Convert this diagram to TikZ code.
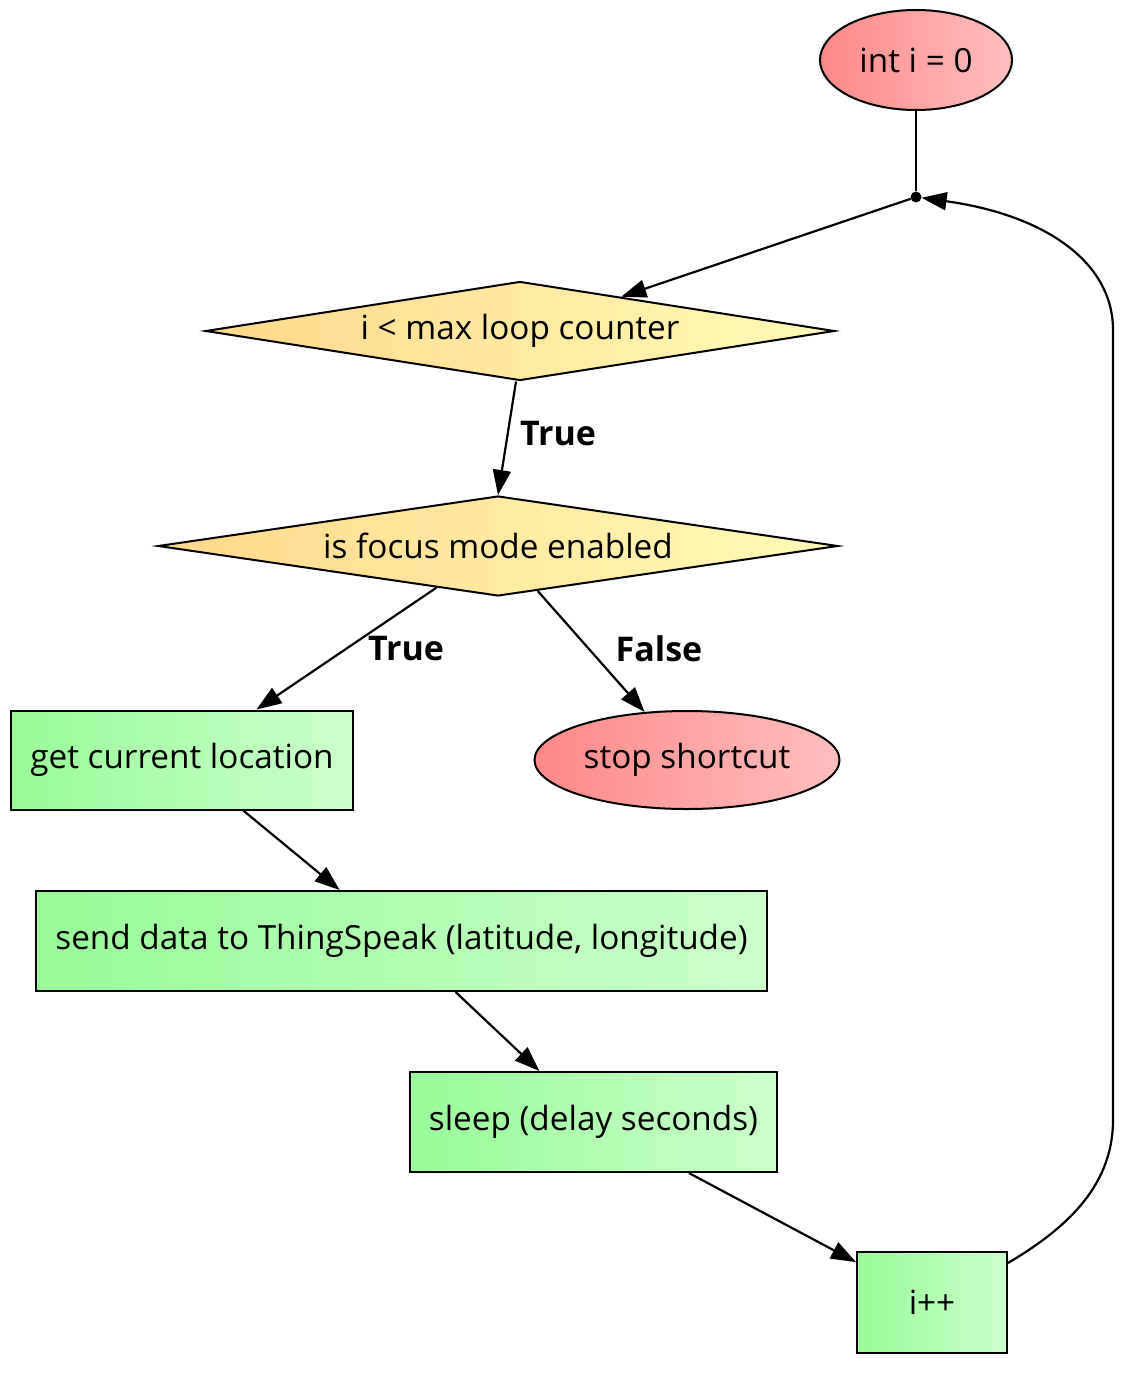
\documentclass[tikz,border=0pt]{standalone}
\usepackage{fontspec}
\setmainfont{Open Sans}
\usetikzlibrary{shapes.geometric,arrows.meta,calc}
\definecolor{redL}{HTML}{FF8888}
\definecolor{redR}{HTML}{FFBFBF}
\definecolor{grnL}{HTML}{98FB98}
\definecolor{grnR}{HTML}{CCFFCC}
\definecolor{yelL}{HTML}{FFD88A}
\definecolor{yelR}{HTML}{FFFCB8}
\tikzset{
  base/.style={draw=black, line width=2pt, inner sep=0pt, font=\fontsize{33.3}{38}\selectfont},
  term/.style={base, ellipse, left color=redL, right color=redR},
  proc/.style={base, rectangle, left color=grnL, right color=grnR},
  cond/.style={base, diamond, aspect=6.3, left color=yelL, right color=yelR},
  lbl/.style={font=\fontsize{34}{38}\selectfont\bfseries},
  conn/.style={line width=2.2pt, -{Triangle[length=25pt,width=18pt]}},
  plain/.style={line width=2.2pt}
}
\begin{document}
\begin{tikzpicture}[x=1pt,y=-1pt]
\useasboundingbox (0,0) rectangle (1139,1378);
\node[term, minimum width=192, minimum height=100] (init) at (916,60) {int i = 0};
\node[circle, fill=black, inner sep=0pt, minimum size=11] (pt) at (916,197) {};
\node[cond, minimum width=629, minimum height=99] (d1) at (520,331) {i < max loop counter};
\node[cond, minimum width=680, minimum height=100] (d2) at (498,546) {is focus mode enabled};
\node[proc, minimum width=342, minimum height=99] (get) at (182,760) {get current location};
\node[term, minimum width=305, minimum height=98] (stop) at (687,760) {stop shortcut};
\node[proc, minimum width=731, minimum height=100] (send) at (401.5,941) {send data to ThingSpeak (latitude, longitude)};
\node[proc, minimum width=367, minimum height=100] (sleep) at (593.5,1122) {sleep (delay seconds)};
\node[proc, minimum width=150, minimum height=101] (ipp) at (932,1302.5) {i++};
\node[lbl] (l1) at (558,434) {True};
\node[lbl] (l2) at (406,649) {True};
\node[lbl] (l3) at (659,649) {False};
\draw[plain] (init) -- (pt);
\draw[conn] (pt) -- (d1);
\draw[conn] ($(d1.south)+(-4,0)$) -- (d2.north);
\draw[conn] (d2) -- (get);
\draw[conn] (d2) -- (stop);
\draw[conn] (get) -- (send);
\draw[conn] (send) -- (sleep);
\draw[conn] (sleep) -- (ipp);
\coordinate (lp1) at (1113,1120);
\coordinate (lp2) at (1113,330);
\draw[conn] ($(ipp.north east)+(0,12)$) .. controls (1060,1232) and (1113,1190) .. (lp1) -- (lp2) .. controls (1113,262) and (1045,215) .. (pt);
\end{tikzpicture}
\end{document}
